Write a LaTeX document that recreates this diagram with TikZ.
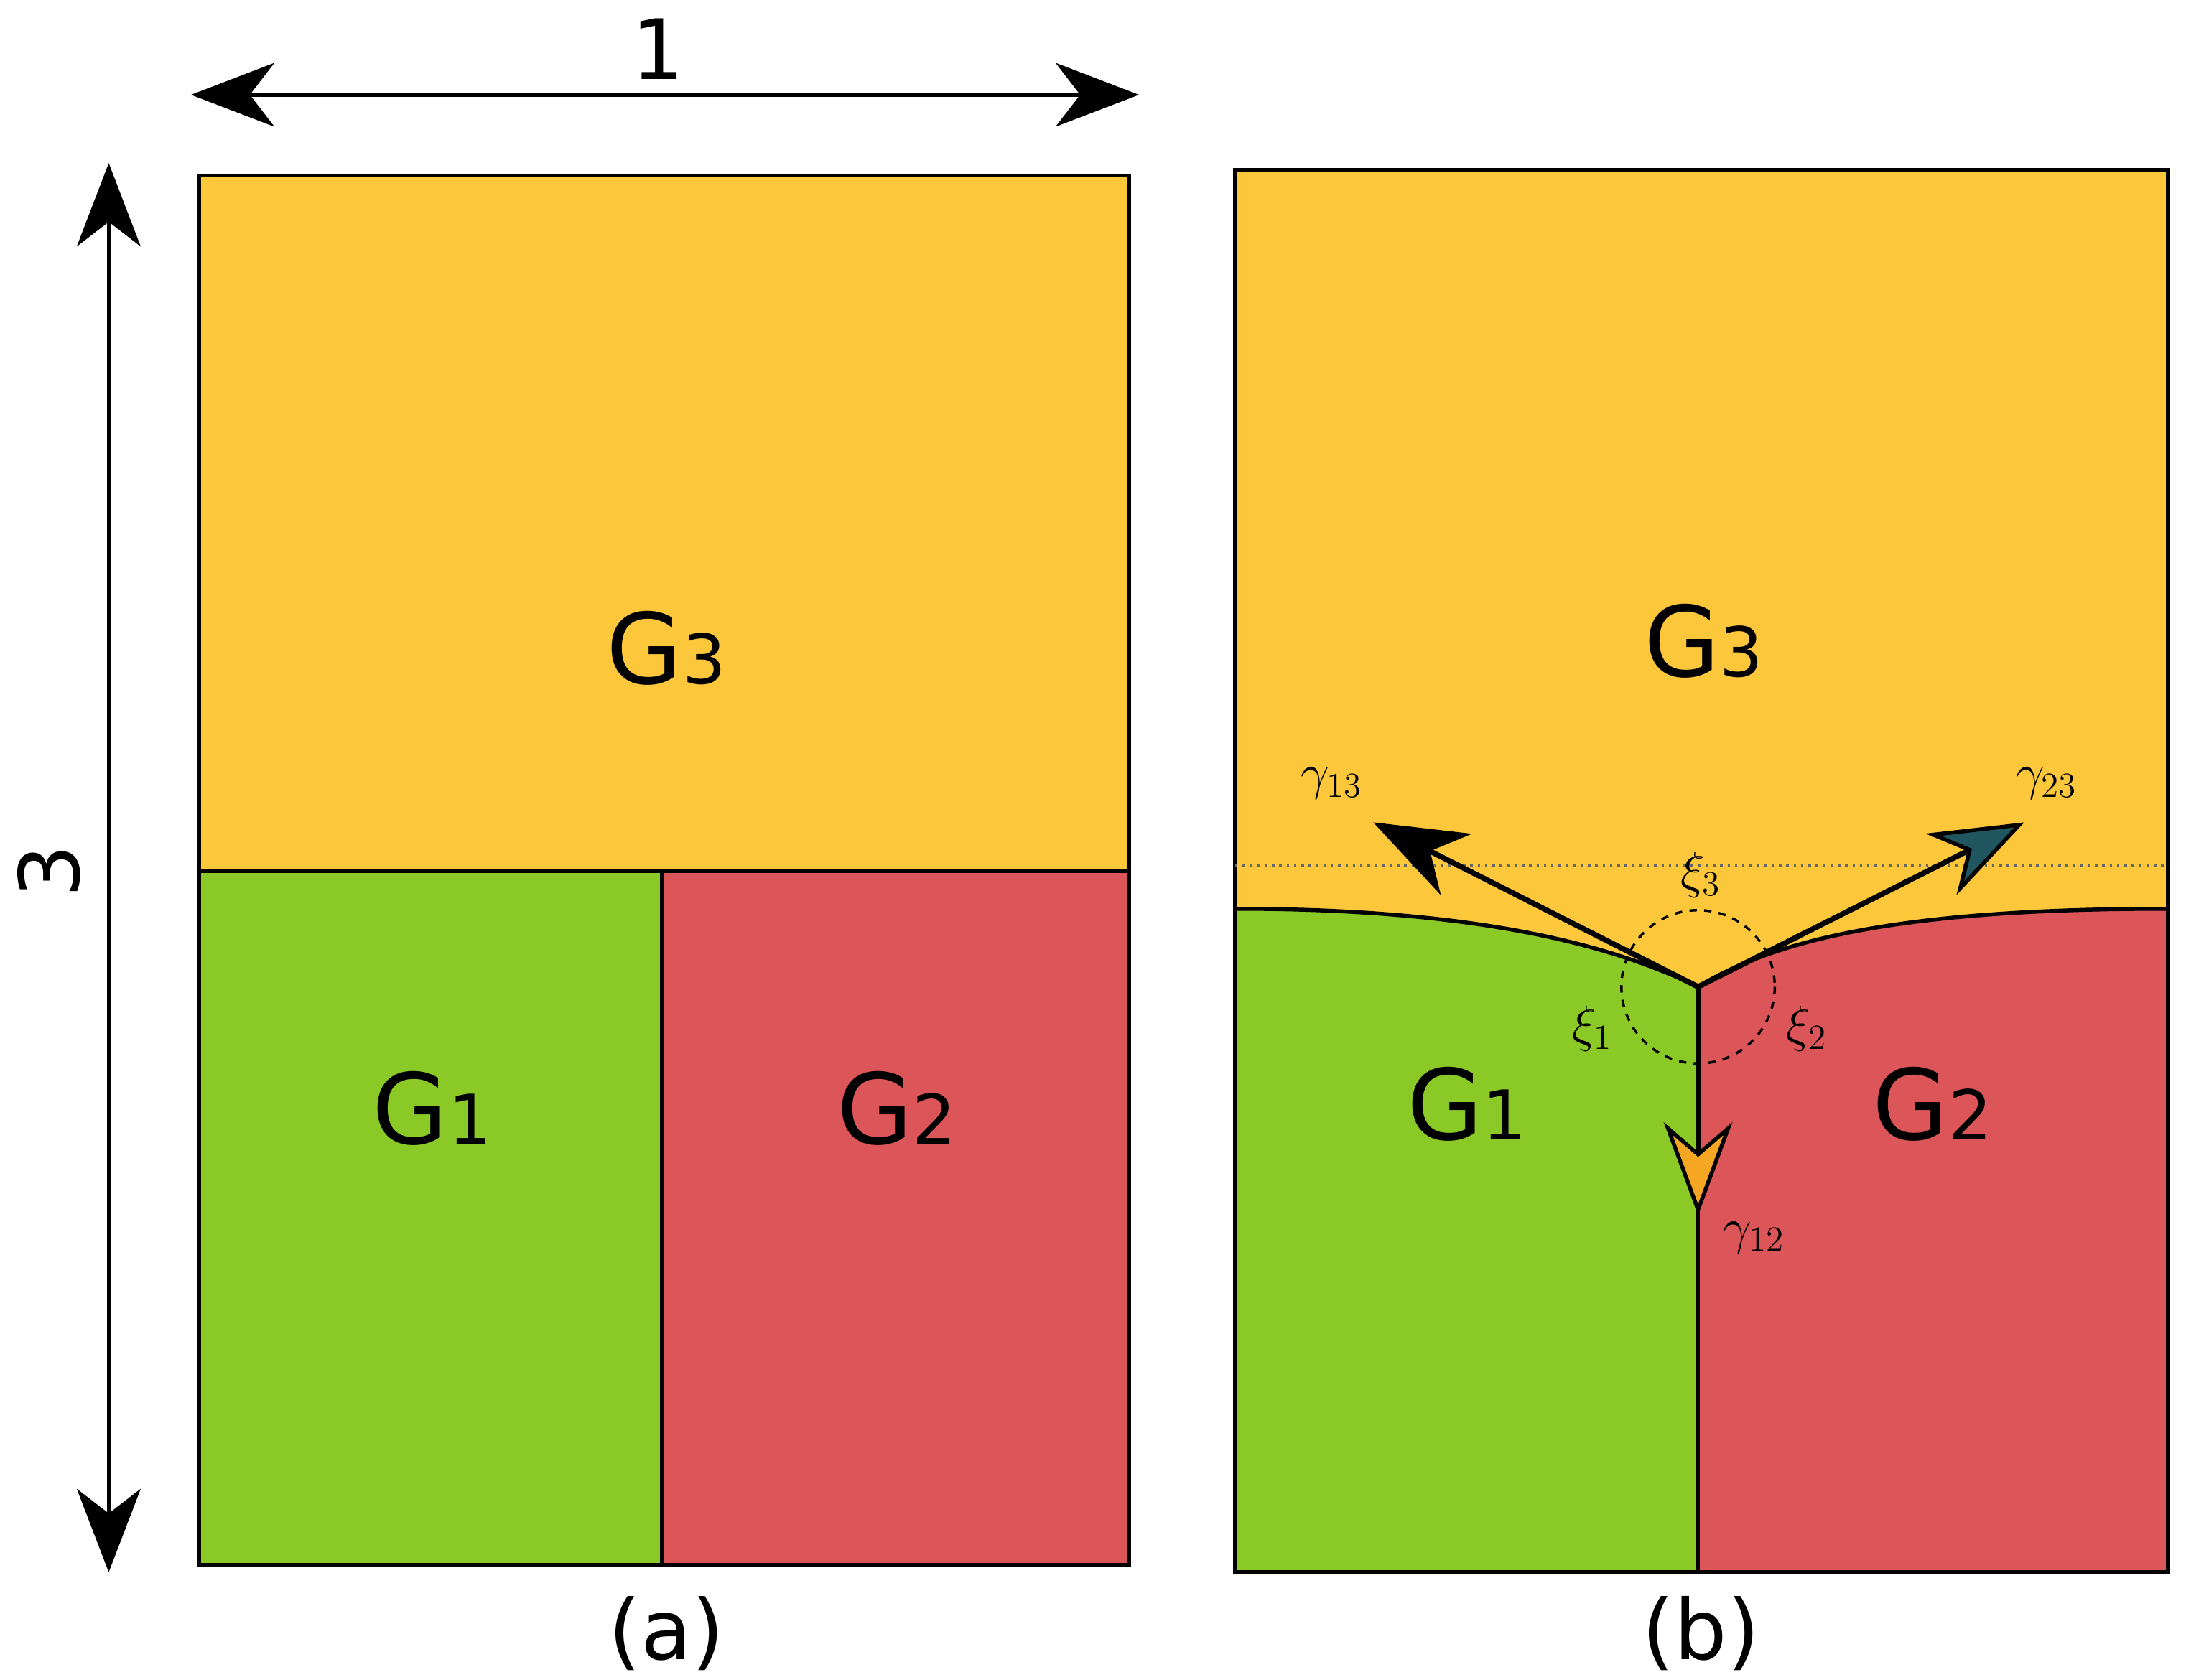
\documentclass[tikz,border=0pt]{standalone}
\usepackage{fontspec}
\setmainfont{DejaVu Sans}
\usepackage{amsmath}
\usetikzlibrary{arrows.meta}
\definecolor{gyellow}{HTML}{FDC73C}
\definecolor{ggreen}{HTML}{8AC926}
\definecolor{gred}{HTML}{DC5558}
\definecolor{gteal}{HTML}{1F5660}
\definecolor{gorange}{HTML}{F5A623}
\tikzstyle{grain}=[draw=black,line width=1.6pt]
\tikzstyle{glabel}=[font=\fontsize{40}{40}\selectfont]
\tikzstyle{mlabel}=[font=\fontsize{22}{26}\selectfont]
\tikzstyle{dimarrow}=[line width=1.6pt,{Stealth[length=34pt,width=26pt,inset=10pt]}-{Stealth[length=34pt,width=26pt,inset=10pt]}]
\tikzstyle{gtension}=[line width=2.2pt]
\newcommand{\gname}[1]{G{\fontsize{28}{28}\selectfont #1}}
\newcommand{\picunit}{0.02cm}

\begin{document}
\begin{tikzpicture}[x=\picunit,y=-\picunit]
    \useasboundingbox (0,0) rectangle (1568,1205);
    % (a)
    \fill[gyellow] (143,126) rectangle (810,625);
    \fill[ggreen] (143,625) rectangle (475,1123);
    \fill[gred] (475,625) rectangle (810,1123);
    \draw[grain] (143,126) rectangle (810,1123);
    \draw[grain] (143,625) -- (810,625);
    \draw[grain] (475,625) -- (475,1123);
    \node[glabel] (a3) at (478,465) {\gname{3}};
    \node[glabel] (a1) at (310,795) {\gname{1}};
    \node[glabel] (a2) at (643,795) {\gname{2}};
    \coordinate (wl) at (137,68);
    \coordinate (wr) at (817,68);
    \coordinate (ht) at (78,117);
    \coordinate (hb) at (78,1128);
    \draw[dimarrow] (wl) -- (wr);
    \draw[dimarrow] (ht) -- (hb);
    \node[glabel,font=\fontsize{34}{34}\selectfont] (one) at (472,35) {1};
    \node[glabel,font=\fontsize{34}{34}\selectfont,rotate=90] (three) at (35,625) {3};
    \node[glabel,font=\fontsize{34}{34}\selectfont] (capa) at (478,1172) {(a)};
    % (b)
    \coordinate (tj) at (1218,708);
    \fill[gyellow] (886,122) rectangle (1555,1128);
    \fill[ggreen] (886,652) .. controls (1050,652) and (1150,675) .. (tj) -- (1218,1128) -- (886,1128) -- cycle;
    \fill[gred] (1555,652) .. controls (1380,652) and (1280,670) .. (tj) -- (1218,1128) -- (1555,1128) -- cycle;
    \draw[grain] (886,652) .. controls (1050,652) and (1150,675) .. (tj);
    \draw[grain] (1555,652) .. controls (1380,652) and (1280,670) .. (tj);
    \draw[grain] (tj) -- (1218,1128);
    \draw[grain] (886,122) rectangle (1555,1128);
    \draw[black!60,dotted,line width=1pt] (886,621) -- (1555,621);
    \draw[dashed,line width=1pt] (tj) circle (55);
    \coordinate (g13) at (985,590);
    \coordinate (g23) at (1452,590);
    \coordinate (g12) at (1218,872);
    \draw[gtension,-{Stealth[length=38pt,width=28pt,inset=12pt,line width=1.6pt,fill=black]}] (tj) -- (g13);
    \draw[gtension,-{Stealth[length=38pt,width=28pt,inset=12pt,line width=1.6pt,fill=gteal]}] (tj) -- (g23);
    \draw[gtension,-{Stealth[length=38pt,width=28pt,inset=12pt,line width=1.6pt,fill=gorange]}] (tj) -- (g12);
    \node[mlabel] (l13) at (955,562) {$\gamma_{13}$};
    \node[mlabel] (l23) at (1468,562) {$\gamma_{23}$};
    \node[mlabel] (l12) at (1258,888) {$\gamma_{12}$};
    \node[mlabel] (x3) at (1220,628) {$\xi_3$};
    \node[mlabel] (x1) at (1142,738) {$\xi_1$};
    \node[mlabel] (x2) at (1296,738) {$\xi_2$};
    \node[glabel] (b3) at (1222,460) {\gname{3}};
    \node[glabel] (b1) at (1052,792) {\gname{1}};
    \node[glabel] (b2) at (1386,792) {\gname{2}};
    \node[glabel,font=\fontsize{34}{34}\selectfont] (capb) at (1220,1172) {(b)};
\end{tikzpicture}
\end{document}
